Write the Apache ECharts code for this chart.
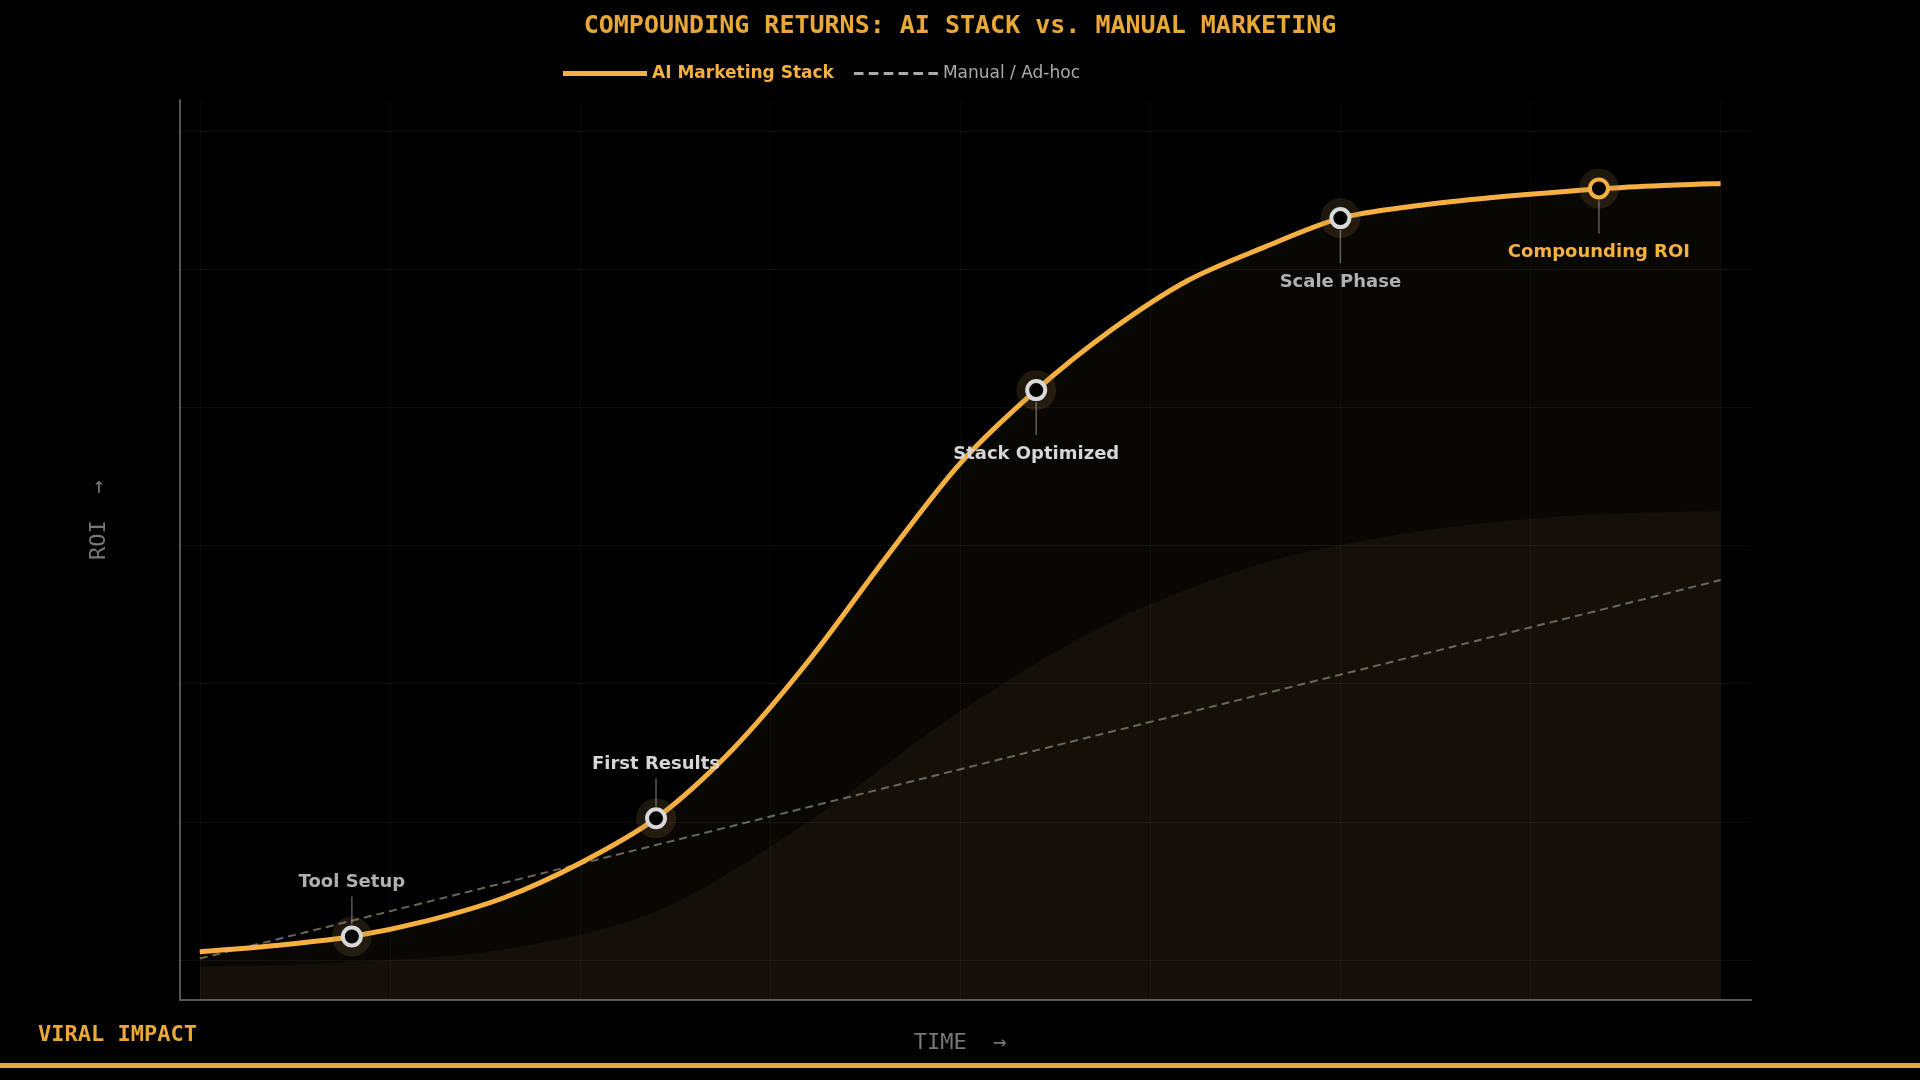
<!DOCTYPE html>
<html>
<head>
<meta charset="utf-8">
<script src="https://cdn.jsdelivr.net/npm/echarts@6/dist/echarts.min.js"></script>
<style>
  html, body { margin: 0; padding: 0; background: #000; }
  #chart { width: 1920px; height: 1080px; }
</style>
</head>
<body>
<div id="chart"></div>
<script>
// AI stack curve (time 0..100, ROI)
const aiX = [0, 5, 10, 15, 20, 25, 30, 35, 40, 45, 50, 55, 60, 65, 70, 75, 80, 85, 90, 95, 100];
const aiY = [1.2, 2.1, 3.4, 5.7, 9.0, 14, 20.5, 30.4, 43.2, 57.9, 71.9, 82.5, 91.3, 98.4, 103.2, 107.4, 109.2, 110.4, 111.3, 112, 112.4];

// manual / ad-hoc line
const manualX = [0, 100];
const manualY = [0.2, 55];

// background band (potential ceiling)
const bandX = [0, 10, 20, 30, 40, 50, 60, 70, 80, 90, 100];
const bandY = [-1, -0.3, 1.5, 7, 20, 36, 49, 57.5, 62, 64.3, 65];

// milestones
const milestoneNames = ['Tool Setup', 'First Results', 'Stack Optimized', 'Scale Phase', 'Compounding ROI'];
const milestoneX = [10, 30, 55, 75, 92];
const milestoneY = [3.4, 20.5, 82.5, 107.4, 111.7];
const milestoneAbove = [true, true, false, false, false];

const gridRows = [0, 20, 40, 60, 80, 100, 120];
const gridCols = [0, 12.5, 25, 37.5, 50, 62.5, 75, 87.5, 100];

const ORANGE = '#f5b041';
const chart = echarts.init(document.getElementById('chart'));

const pair = (xs, ys) => xs.map((x, i) => [x, ys[i]]);

const option = {
  backgroundColor: '#000',
  animation: false,
  title: {
    text: 'COMPOUNDING RETURNS: AI STACK vs. MANUAL MARKETING',
    left: 'center', top: 9,
    textStyle: { color: '#e8a838', fontFamily: 'DejaVu Sans Mono', fontWeight: 'bold', fontSize: 25 }
  },
  legend: {
    top: 60, left: 558,
    itemWidth: 84, itemHeight: 5, itemGap: 20,
    data: [
      { name: 'AI Marketing Stack', icon: 'rect', itemStyle: { color: ORANGE }, textStyle: { color: ORANGE, fontWeight: 'bold' } },
      { name: 'Manual / Ad-hoc', icon: 'path://M0,0h9v3h-9z M14,0h9v3h-9z M28,0h9v3h-9z M42,0h9v3h-9z M56,0h9v3h-9z M70,0h9v3h-9z', itemStyle: { color: '#aaa' }, textStyle: { color: '#aaa' } }
    ],
    textStyle: { fontFamily: 'DejaVu Sans', fontSize: 17 }
  },
  grid: { left: 180, right: 169, top: 100, bottom: 80 },
  xAxis: {
    type: 'value', min: -1.3, max: 102,
    axisLine: { show: true, onZero: false, lineStyle: { color: '#555', width: 2 } },
    axisTick: { show: false }, axisLabel: { show: false }, splitLine: { show: false }
  },
  yAxis: {
    type: 'value', min: -5.8, max: 124.5,
    axisLine: { show: true, onZero: false, lineStyle: { color: '#555', width: 2 } },
    axisTick: { show: false }, axisLabel: { show: false }, splitLine: { show: false }
  },
  graphic: [
    { type: 'text', left: 38, top: 1024, style: { text: 'VIRAL IMPACT', fill: '#e8a838', font: 'bold 22px "DejaVu Sans Mono"' } },
    { type: 'text', left: 'center', top: 1032, style: { text: 'TIME  →', fill: '#777', font: '22px "DejaVu Sans Mono"' } },
    { type: 'text', x: 88, y: 560, rotation: Math.PI / 2, style: { text: 'ROI  →', fill: '#777', font: '22px "DejaVu Sans Mono"' } },
    { type: 'rect', left: 0, top: 1063, shape: { width: 1920, height: 5 }, style: { fill: '#e8a838' } }
  ],
  series: [
    {
      type: 'line', name: 'band', data: pair(bandX, bandY), smooth: 0.3, symbol: 'none',
      lineStyle: { width: 0 }, areaStyle: { color: 'rgba(180,160,110,0.09)', origin: 'start' },
      silent: true, z: 1,
      markLine: {
        silent: true, symbol: 'none', label: { show: false },
        lineStyle: { color: 'rgba(255,255,255,0.05)', type: 'solid', width: 1 },
        data: gridRows.map(v => ({ yAxis: v })).concat(gridCols.map(v => ({ xAxis: v, lineStyle: { type: 'dotted', color: 'rgba(255,255,255,0.07)' } })))
      }
    },
    {
      type: 'line', name: 'AI Marketing Stack', data: pair(aiX, aiY), smooth: 0.3, symbol: 'none',
      lineStyle: { color: ORANGE, width: 5 }, itemStyle: { color: ORANGE },
      areaStyle: { color: 'rgba(140,120,60,0.08)', origin: 'start' }, z: 3
    },
    {
      type: 'line', name: 'Manual / Ad-hoc', data: pair(manualX, manualY), symbol: 'none',
      lineStyle: { color: '#6b6558', width: 2, type: [8, 5] }, itemStyle: { color: '#aaa' }, z: 2
    },
    {
      type: 'custom', name: 'milestones', z: 5,
      data: milestoneX.map((x, i) => [x, milestoneY[i], i]),
      renderItem: (params, api) => {
        const i = api.value(2);
        const p = api.coord([api.value(0), api.value(1)]);
        const last = i === milestoneNames.length - 1;
        const ringColor = last ? ORANGE : '#d8d8d8';
        const up = milestoneAbove[i];
        const lineEnd = up ? p[1] - 40 : p[1] + 45;
        const textY = up ? p[1] - 45 : p[1] + 55;
        return {
          type: 'group',
          children: [
            { type: 'circle', shape: { cx: p[0], cy: p[1], r: 20 }, style: { fill: 'rgba(160,130,70,0.18)' } },
            { type: 'line', shape: { x1: p[0], y1: up ? p[1] - 12 : p[1] + 12, x2: p[0], y2: lineEnd }, style: { stroke: 'rgba(200,200,200,0.45)', lineWidth: 1.5 } },
            { type: 'circle', shape: { cx: p[0], cy: p[1], r: 9 }, style: { fill: '#000', stroke: ringColor, lineWidth: 4 } },
            {
              type: 'text', x: p[0], y: textY,
              style: {
                text: milestoneNames[i], align: 'center', verticalAlign: up ? 'bottom' : 'top',
                fill: last ? ORANGE : (i === 2 || i === 1 ? '#d6d6d6' : '#b0b0b0'),
                font: 'bold 18px "DejaVu Sans"'
              }
            }
          ]
        };
      }
    }
  ]
};
chart.setOption(option);
</script>
</body>
</html>
